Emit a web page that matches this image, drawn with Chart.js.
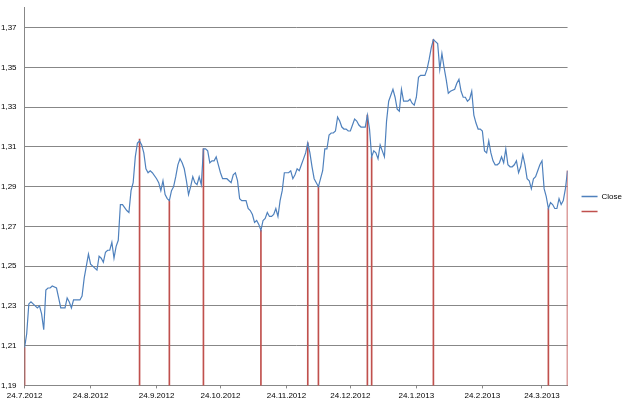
<!DOCTYPE html>
<html>
<head>
<meta charset="utf-8">
<script src="https://cdn.jsdelivr.net/npm/chart.js@4.4.1/dist/chart.umd.min.js"></script>
<style>
  html, body { margin: 0; padding: 0; background: #fff; }
  canvas { display: block; }
</style>
</head>
<body>
<canvas id="closeChart" width="625" height="401"></canvas>
<script>
"use strict";

// days counted from 24.7.2012
const closeDays = [
  0, 1, 2, 3, 5, 6, 7, 8, 9, 10, 11, 12, 13, 15, 16, 17, 18, 19, 20, 21, 22, 23, 24, 26, 27, 28, 29, 30,
  31, 32, 33, 34, 35, 36, 37, 38, 39, 40, 41, 42, 43, 44, 45, 46, 48, 49, 50, 51, 52, 53, 54, 55, 56, 57,
  58, 59, 60, 62, 63, 64, 65, 66, 67, 68, 69, 70, 71, 72, 73, 74, 75, 76, 77, 78, 79, 80, 81, 82, 83, 84,
  85, 86, 87, 88, 89, 90, 91, 92, 93, 94, 95, 96, 97, 98, 99, 100, 101, 102, 103, 104, 105, 106, 107, 108,
  109, 110, 111, 112, 113, 114, 115, 116, 117, 118, 119, 120, 121, 122, 123, 124, 125, 126, 127, 128, 129,
  130, 131, 132, 133, 134, 135, 136, 137, 138, 139, 140, 141, 142, 143, 144, 145, 146, 147, 148, 149, 150,
  151, 152, 153, 154, 155, 156, 157, 158, 159, 160, 161, 162, 163, 164, 165, 166, 167, 168, 169, 170, 171,
  172, 173, 174, 175, 176, 177, 178, 179, 180, 181, 182, 183, 184, 185, 186, 187, 188, 189, 190, 191, 192,
  193, 194, 195, 196, 197, 198, 199, 200, 202, 203, 204, 205, 206, 207, 208, 209, 210, 211, 212, 213, 214,
  215, 216, 217, 218, 219, 220, 221, 222, 223, 224, 225, 226, 227, 228, 229, 230, 231, 232, 233, 234, 235,
  236, 237, 238, 239, 240, 241, 242, 243, 244, 245, 246, 247, 248, 249, 250, 251, 252, 253, 254, 255
];
const closeValues = [
  1.209, 1.216, 1.231, 1.232, 1.230, 1.229, 1.230, 1.226, 1.218, 1.238, 1.239, 1.239, 1.240, 1.239, 1.234,
  1.229, 1.229, 1.229, 1.234, 1.232, 1.229, 1.233, 1.233, 1.233, 1.235, 1.244, 1.250, 1.256, 1.251, 1.250,
  1.249, 1.248, 1.255, 1.254, 1.252, 1.257, 1.258, 1.258, 1.262, 1.254, 1.260, 1.263, 1.281, 1.281, 1.278,
  1.277, 1.288, 1.292, 1.305, 1.312, 1.313, 1.311, 1.307, 1.299, 1.297, 1.298, 1.297, 1.294, 1.292, 1.288,
  1.293, 1.286, 1.284, 1.283, 1.288, 1.290, 1.295, 1.301, 1.304, 1.302, 1.299, 1.293, 1.286, 1.290, 1.295,
  1.292, 1.291, 1.295, 1.291, 1.309, 1.309, 1.308, 1.302, 1.303, 1.303, 1.305, 1.301, 1.297, 1.294, 1.294,
  1.294, 1.293, 1.292, 1.296, 1.297, 1.293, 1.284, 1.283, 1.283, 1.283, 1.279, 1.278, 1.276, 1.272, 1.273,
  1.271, 1.268, 1.273, 1.274, 1.277, 1.275, 1.275, 1.276, 1.279, 1.275, 1.283, 1.288, 1.297, 1.297, 1.297,
  1.298, 1.294, 1.296, 1.299, 1.298, 1.301, 1.304, 1.307, 1.312, 1.307, 1.300, 1.294, 1.292, 1.290, 1.294,
  1.298, 1.309, 1.309, 1.316, 1.317, 1.317, 1.318, 1.325, 1.323, 1.320, 1.319, 1.319, 1.318, 1.318, 1.321,
  1.324, 1.323, 1.321, 1.320, 1.320, 1.320, 1.326, 1.319, 1.305, 1.308, 1.307, 1.304, 1.311, 1.308, 1.305,
  1.323, 1.333, 1.336, 1.339, 1.335, 1.329, 1.328, 1.339, 1.333, 1.333, 1.333, 1.334, 1.332, 1.331, 1.335,
  1.345, 1.346, 1.346, 1.346, 1.349, 1.354, 1.360, 1.364, 1.363, 1.362, 1.349, 1.357, 1.350, 1.344, 1.337,
  1.338, 1.339, 1.342, 1.344, 1.338, 1.335, 1.335, 1.333, 1.334, 1.338, 1.326, 1.322, 1.319, 1.319, 1.318,
  1.308, 1.307, 1.313, 1.307, 1.303, 1.301, 1.301, 1.302, 1.305, 1.302, 1.309, 1.301, 1.300, 1.300, 1.301,
  1.303, 1.297, 1.300, 1.306, 1.301, 1.294, 1.293, 1.289, 1.294, 1.295, 1.298, 1.301, 1.303, 1.289, 1.285,
  1.279, 1.282, 1.281, 1.279, 1.279, 1.284, 1.281, 1.283, 1.289, 1.298
];

// turning points (second series, drawn as thin red bars)
const turnDays = [0, 54, 68, 84, 111, 133, 138, 161, 163, 192, 246, 255];
const turnValues = [1.209, 1.314, 1.283, 1.309, 1.268, 1.312, 1.290, 1.326, 1.305, 1.364, 1.279, 1.298];

const xTickDays = [0, 31, 62, 92, 123, 153, 184, 215, 243];
const xTickLabels = ["24.7.2012", "24.8.2012", "24.9.2012", "24.10.2012", "24.11.2012",
  "24.12.2012", "24.1.2013", "24.2.2013", "24.3.2013"];
const yTickValues = [1.19, 1.21, 1.23, 1.25, 1.27, 1.29, 1.31, 1.33, 1.35, 1.37];
const yTickLabels = ["1,19", "1,21", "1,23", "1,25", "1,27", "1,29", "1,31", "1,33", "1,35", "1,37"];

const font = { family: "'Liberation Sans', Arial, sans-serif", size: 8 };
const gridColor = "#878787";
const textColor = "#000";

// the legend sits a bit further right of the plot than Chart.js puts it
const legendNudge = {
  id: "legendNudge",
  afterUpdate(chart) {
    chart.legend.left += 7;
  },
};

const data = {
  datasets: [
    {
      type: "line",
      label: "Close",
      data: closeDays.map((d, i) => ({ x: d, y: closeValues[i] })),
      borderColor: "#4F81BD",
      backgroundColor: "#4F81BD",
      borderWidth: 1.2,
      pointRadius: 0,
      tension: 0,
      order: 1,
    },
    {
      type: "bar",
      label: "",
      data: turnDays.map((d, i) => ({ x: d, y: turnValues[i] })),
      backgroundColor: "#C0504D",
      borderColor: "#C0504D",
      borderWidth: 0,
      barThickness: 1,
      order: 2,
    },
  ],
};

const config = {
  data: data,
  plugins: [legendNudge],
  options: {
    responsive: false,
    animation: false,
    layout: {
      padding: { top: 4, left: -2, right: 0, bottom: -3 },
    },
    plugins: {
      tooltip: { enabled: false },
      legend: {
        position: "right",
        labels: {
          font: font,
          color: textColor,
          usePointStyle: true,
          pointStyle: "line",
          pointStyleWidth: 16,
          padding: 7,
          generateLabels: function (chart) {
            const items = Chart.defaults.plugins.legend.labels.generateLabels(chart);
            items.forEach((item) => { item.lineWidth = 1.3; });
            return items;
          },
        },
      },
    },
    scales: {
      x: {
        type: "linear",
        offset: false,
        min: 0,
        max: 255,
        grid: { drawOnChartArea: false, drawTicks: true, tickLength: 3, color: gridColor, offset: false },
        border: { color: gridColor },
        afterBuildTicks: function (scale) {
          scale.ticks = xTickDays.map((d) => ({ value: d }));
        },
        ticks: {
          font: font,
          color: textColor,
          padding: 3,
          maxRotation: 0,
          autoSkip: false,
          callback: function (value, index) {
            return xTickLabels[index];
          },
        },
      },
      y: {
        min: 1.19,
        max: 1.38,
        grid: { color: gridColor, drawTicks: true, tickLength: 5, tickColor: "rgba(0,0,0,0)" },
        border: { color: gridColor },
        afterBuildTicks: function (scale) {
          scale.ticks = yTickValues.map((v) => ({ value: v }));
        },
        ticks: {
          font: font,
          color: textColor,
          padding: 3,
          callback: function (value, index) {
            return yTickLabels[index];
          },
        },
      },
    },
  },
};

const closeChart = new Chart(document.getElementById("closeChart"), config);
</script>
</body>
</html>
